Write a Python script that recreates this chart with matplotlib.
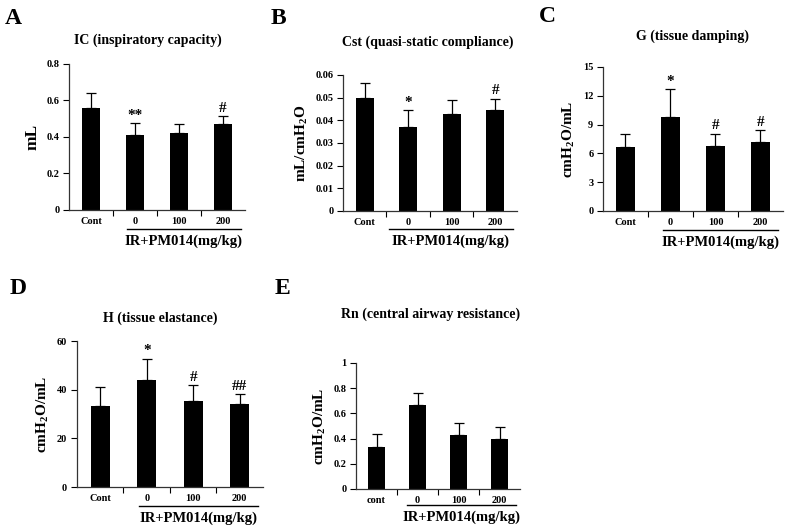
import matplotlib
matplotlib.use("Agg")
import matplotlib.pyplot as plt
import matplotlib.transforms as mtransforms

plt.rcParams['font.family'] = ['Liberation Serif', 'DejaVu Serif']
plt.rcParams['font.weight'] = 'bold'
plt.rcParams['mathtext.fontset'] = 'custom'
plt.rcParams['mathtext.rm'] = 'Liberation Serif:bold'
plt.rcParams['mathtext.bf'] = 'Liberation Serif:bold'
plt.rcParams['mathtext.it'] = 'Liberation Serif:bold:italic'

# data
groups = ['Cont', '0', '100', '200']
groups_e = ['cont', '0', '100', '200']

ic_mean = [0.56, 0.41, 0.42, 0.47]
ic_top = [0.64, 0.475, 0.47, 0.515]
ic_marks = ['', '**', '', '#']

cst_mean = [0.0497, 0.037, 0.0428, 0.0446]
cst_top = [0.0563, 0.0445, 0.049, 0.0495]
cst_marks = ['', '*', '', '#']

g_mean = [6.7, 9.8, 6.8, 7.2]
g_top = [8.0, 12.7, 8.05, 8.4]
g_marks = ['', '*', '#', '#']

h_mean = [33.3, 43.8, 35.5, 34.3]
h_top = [41.2, 52.8, 41.8, 38.2]
h_marks = ['', '*', '#', '##']

rn_mean = [0.33, 0.665, 0.425, 0.395]
rn_top = [0.435, 0.765, 0.525, 0.495]
rn_marks = ['', '', '', '']

ic_ticks = [0, 0.2, 0.4, 0.6, 0.8]
ic_labels = ['0', '0.2', '0.4', '0.6', '0.8']
cst_ticks = [0, 0.01, 0.02, 0.03, 0.04, 0.05, 0.06]
cst_labels = ['0', '0.01', '0.02', '0.03', '0.04', '0.05', '0.06']
g_ticks = [0, 3, 6, 9, 12, 15]
g_labels = ['0', '3', '6', '9', '12', '15']
h_ticks = [0, 20, 40, 60]
h_labels = ['0', '20', '40', '60']
rn_ticks = [0, 0.2, 0.4, 0.6, 0.8, 1]
rn_labels = ['0', '0.2', '0.4', '0.6', '0.8', '1']

W, H = 787, 530
fig = plt.figure(figsize=(W / 100, H / 100), dpi=100)

panels = [
    # letter, title, ylabel, ylabel size, labels, mean, top, marks, ticks, ticklabels,
    # axes rect, underline start, letter pos (px), title pos (px)
    ('A', 'IC (inspiratory capacity)', 'mL', 12.5, groups, ic_mean, ic_top, ic_marks,
     ic_ticks, ic_labels, [0.0877, 0.6038, 0.2236, 0.2755], 0.82, (5, 18), (148, 40)),
    ('B', 'Cst (quasi-static compliance)', r'mL/cmH$_{2}$O', 11, groups, cst_mean, cst_top, cst_marks,
     cst_ticks, cst_labels, [0.4358, 0.6019, 0.2211, 0.2566], 0.55, (271, 18), (428, 42)),
    ('C', 'G (tissue damping)', r'cmH$_{2}$O/mL', 11, groups, g_mean, g_top, g_marks,
     g_ticks, g_labels, [0.7662, 0.6019, 0.2287, 0.2717], 0.83, (539, 17), (692, 36)),
    ('D', 'H (tissue elastance)', r'cmH$_{2}$O/mL', 11, groups, h_mean, h_top, h_marks,
     h_ticks, h_labels, [0.0978, 0.0811, 0.2363, 0.2755], 0.83, (10, 288), (160, 318)),
    ('E', 'Rn (central airway resistance)', r'cmH$_{2}$O/mL', 11, groups_e, rn_mean, rn_top, rn_marks,
     rn_ticks, rn_labels, [0.4524, 0.0774, 0.2084, 0.2377], 0.74, (275, 288), (431, 314)),
]

for (letter, title, ylab, ysize, labels, mean, top, marks, ticks, tlabels,
     rect, x0, lpos, tpos) in panels:
    ax = fig.add_axes(rect)
    xs = list(range(len(labels)))
    err = [t - m for t, m in zip(top, mean)]
    ax.bar(xs, mean, width=0.41, color='black', zorder=2)
    ax.errorbar(xs, mean, yerr=[[0] * len(err), err], fmt='none', ecolor='black',
                elinewidth=0.9, capsize=3.5, capthick=0.9, zorder=1)
    for x, t, mk in zip(xs, top, marks):
        if mk:
            ax.annotate(mk, (x, t), xytext=(0, 1), textcoords='offset points',
                        ha='center', va='bottom', fontsize=11, fontweight='bold')
    ax.set_xlim(-0.5, len(labels) - 0.5)
    ax.set_ylim(ticks[0], ticks[-1])
    ax.set_yticks(ticks)
    ax.set_yticklabels(tlabels, fontsize=7.5, fontweight='bold')
    ax.set_xticks(xs)
    ax.set_xticklabels(labels, fontsize=7.5, fontweight='bold')
    ax.tick_params(axis='x', which='major', length=0, pad=5)
    ax.set_xticks([x + 0.5 for x in xs[:-1]], minor=True)
    ax.tick_params(axis='x', which='minor', length=4, width=0.8, direction='out')
    ax.tick_params(axis='y', length=4, width=0.8, direction='out', pad=3)
    for s in ['top', 'right']:
        ax.spines[s].set_visible(False)
    for s in ['left', 'bottom']:
        ax.spines[s].set_linewidth(0.9)
        ax.spines[s].set_color('#333333')
    ax.set_ylabel(ylab, fontsize=ysize, fontweight='bold', labelpad=4)

    # group label with underline
    trans = mtransforms.blended_transform_factory(ax.transData, ax.transAxes)
    ax.plot([x0, 3.4], [-0.13, -0.13], color='black', lw=1, transform=trans, clip_on=False)
    ax.text((x0 + 3.4) / 2, -0.17, 'IR+PM014(mg/kg)', transform=trans, ha='center', va='top',
            fontsize=10.5, fontweight='bold')

    fig.text(tpos[0] / W, 1 - tpos[1] / H, title, fontsize=10, fontweight='bold',
             ha='center', va='center')
    fig.text(lpos[0] / W, 1 - lpos[1] / H, letter, fontsize=17, fontweight='bold',
             va='center', ha='left')

fig.savefig('out.png', dpi=100)
